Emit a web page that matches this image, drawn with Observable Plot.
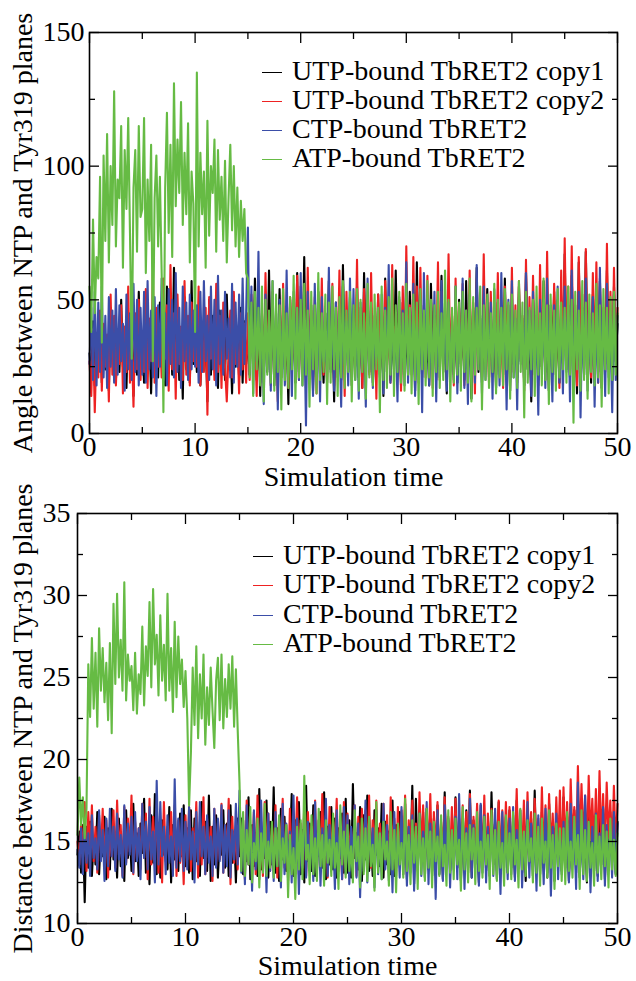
<!DOCTYPE html>
<html>
<head>
<meta charset="utf-8">
<script src="https://cdn.jsdelivr.net/npm/d3@7"></script>
<script src="https://cdn.jsdelivr.net/npm/@observablehq/plot@0.6"></script>
<style>
  html, body { margin: 0; padding: 0; background: #fff; }
  #wrap { position: relative; width: 636px; height: 981px; font-family: "Liberation Serif", serif; }
  #wrap svg { display: block; }
  .leg { position: absolute; font-family: "Liberation Serif", serif; font-size: 28px; line-height: 24px; height: 24px; white-space: nowrap; color: #000; }
  .sw { display: inline-block; width: 20px; height: 0; border-top: 1.6px solid; vertical-align: middle; margin-right: 10px; position: relative; top: -1px; }
</style>
</head>
<body>
<div id="wrap"></div>
<script>
// ---- Data ----
const seriesNames = ["UTP-bound TbRET2 copy1", "UTP-bound TbRET2 copy2", "CTP-bound TbRET2", "ATP-bound TbRET2"];
const seriesColors = ["#000000", "#ee2222", "#3b4ea8", "#66bb44"];
const timeSpan = [0, 50];
const xMajorTicks = [0, 10, 20, 30, 40, 50];
const xMinorTicks = [5, 15, 25, 35, 45];
const angleMajorTicks = [0, 50, 100, 150];
const angleMinorTicks = [25, 75, 125];
const distMajorTicks = [10, 15, 20, 25, 30, 35];
const distMinorTicks = [12.5, 17.5, 22.5, 27.5, 32.5];

// Angle between NTP and Tyr319 planes (one row = 5 time units)
const angleUTP1 = [
30,21,42,18,36,26,45,19,38,24,33,16,47,27,40,20,35,23,50,25,31,17,44,28,37,14,41,22,53,26,
34,19,46,24,39,15,43,28,36,21,49,25,33,18,55,27,40,22,62,29,45,20,38,13,51,24,42,19,57,26,
37,23,48,18,41,27,35,12,50,22,44,26,38,17,46,24,40,20,52,28,36,15,43,25,39,21,47,19,42,26,
35,22,49,27,58,20,41,14,45,29,37,23,61,25,43,18,39,28,54,21,46,24,38,11,50,26,42,19,60,23,
44,27,66,21,39,25,48,16,41,30,53,22,37,19,45,27,57,24,40,12,49,26,36,20,63,28,42,23,51,18,
38,25,55,21,44,17,60,28,40,23,47,19,36,26,52,22,41,14,58,27,43,20,38,24,61,29,45,18,49,25,
37,22,53,26,42,16,64,27,39,21,48,24,35,18,56,28,44,20,40,25,59,23,46,15,51,27,38,22,45,19,
50,26,41,20,57,24,37,13,47,28,62,23,43,19,39,27,54,21,45,25,36,17,49,28,42,22,58,24,40,16,
46,26,39,21,55,27,43,18,60,24,37,12,50,28,44,20,41,25,57,23,38,16,48,29,53,22,45,19,42,26,
67,24,44,21,59,27,39,15,64,28,47,22,68,25,41,19,52,30,45,23,57,17,43,26,61,24,40,20,55,27,
41];
const angleUTP2 = [
27,14,39,8,34,21,46,16,41,25,37,12,52,22,44,18,36,26,48,15,40,23,55,19,33,10,45,24,50,20,
38,23,54,17,43,27,60,19,47,25,39,21,58,28,48,16,63,24,45,13,52,26,40,20,57,22,44,18,49,27,
42,25,55,18,39,23,47,7,51,28,40,20,56,23,44,17,49,25,12,30,46,21,53,26,38,15,45,24,41,19,
45,20,52,27,38,14,57,23,41,19,60,26,44,18,53,24,39,12,48,21,56,25,42,17,51,28,37,22,59,20,
55,25,40,17,62,28,46,20,51,15,43,27,58,22,36,19,49,24,56,18,42,26,61,21,45,14,53,28,39,23,
41,26,65,21,47,17,54,29,39,22,60,25,44,13,52,27,37,20,57,23,46,19,63,28,40,24,50,16,55,22,
70,28,48,22,66,25,55,19,62,27,45,21,59,24,50,17,42,26,64,20,53,28,47,23,67,25,44,18,58,26,
47,25,56,18,43,28,61,22,49,15,58,26,40,21,67,24,46,19,53,27,44,22,60,25,38,17,55,28,48,21,
62,23,48,19,57,28,44,16,65,25,51,21,59,27,42,18,63,24,49,20,68,26,45,22,56,29,50,17,61,24,
73,29,55,22,70,26,48,18,66,30,52,24,69,27,45,21,60,25,64,19,58,28,47,23,71,26,53,20,62,27,
47];
const angleCTP = [
26,47,20,53,18,49,23,55,21,44,17,51,25,46,19,54,22,48,27,41,16,52,24,45,20,56,23,50,18,47,
22,53,19,57,24,46,21,51,14,48,25,58,20,45,18,54,26,50,21,60,23,47,17,55,27,49,20,52,24,46,
25,48,19,53,23,57,27,44,20,55,24,50,18,59,26,46,22,53,28,43,21,56,19,49,25,52,22,58,26,45,
77,22,55,15,48,27,68,19,44,11,52,24,40,16,57,21,45,9,50,26,42,18,61,23,39,14,53,25,47,20,
60,18,43,3,53,25,39,14,56,22,47,12,51,27,37,19,62,23,44,16,49,21,38,10,55,26,42,18,58,24,
54,20,42,13,49,26,38,10,58,24,45,17,40,28,36,21,52,15,47,23,63,19,44,25,39,12,51,22,46,18,
64,19,43,25,56,14,41,22,50,8,60,27,45,18,39,24,53,12,47,21,57,26,42,16,49,23,38,20,55,15,
42,26,58,17,46,11,52,23,40,19,63,25,44,15,55,20,37,27,49,13,54,22,41,18,60,24,45,9,50,21,
57,21,43,9,51,26,39,18,60,24,46,14,53,22,41,7,50,25,44,17,58,23,40,12,48,27,55,19,43,15,
55,23,48,12,61,20,42,27,53,6,45,22,58,16,40,25,51,10,47,19,62,24,44,14,56,21,39,8,52,20,
44];
const angleATP = [
55,38,80,45,66,58,96,34,104,72,112,64,100,78,128,70,95,88,115,62,106,84,118,75,28,92,106,68,115,81,
84,118,60,95,72,108,27,88,104,70,96,60,8,92,120,75,108,66,131,85,110,90,124,78,105,82,116,64,98,86,
38,135,70,105,82,98,62,117,74,100,90,110,68,106,80,96,72,102,64,88,108,76,100,70,92,66,87,72,84,60,
58,21,49,14,53,24,47,18,55,12,50,22,46,19,57,16,52,23,48,9,54,20,45,17,51,24,59,13,47,21,
50,18,56,22,46,10,53,24,48,15,60,20,45,23,52,11,49,19,55,24,47,14,51,21,57,17,46,23,53,12,
48,20,54,16,50,23,45,13,56,21,49,18,52,24,47,8,55,20,46,17,51,22,58,14,48,23,53,19,45,16,
56,22,47,15,52,20,49,11,54,24,46,18,57,21,50,14,48,23,53,17,45,20,61,24,50,12,47,19,55,22,
49,16,53,23,46,19,58,12,51,22,47,24,55,9,48,20,52,17,45,23,56,15,50,21,47,18,54,24,49,13,
52,21,46,17,57,23,49,6,53,19,47,24,50,14,55,22,45,18,58,20,48,11,52,23,46,16,54,21,49,24,
47,19,55,22,50,4,53,24,46,16,57,20,49,13,52,23,45,18,56,21,48,10,54,24,47,15,51,20,53,22,
45];

// Distance between NTP and Tyr319 planes (one row = 5 time units)
const distUTP1 = [
14.2,15.6,13.1,16.0,11.3,15.9,13.4,16.2,12.9,15.1,13.6,16.8,13.0,15.4,14.1,16.5,12.7,15.8,13.3,17.0,13.9,15.3,12.8,16.4,13.5,15.0,12.6,16.9,14.0,15.7,
13.2,17.3,13.8,15.5,12.9,16.1,14.3,17.6,13.1,15.2,12.4,16.6,13.7,17.9,13.0,15.6,12.8,16.3,14.2,15.1,13.3,17.1,12.5,16.0,13.9,15.4,13.2,16.7,14.1,17.2,
13.5,15.8,13.1,16.9,12.7,16.4,13.8,15.5,12.9,17.4,14.0,16.2,13.2,17.8,12.6,15.9,13.6,16.6,12.8,15.3,14.2,16.9,13.4,16.1,12.9,17.2,13.7,15.6,12.5,16.4,
14.1,16.4,13.0,15.2,13.8,17.7,12.7,16.0,13.5,15.5,12.9,18.2,13.3,15.4,14.0,17.5,12.8,16.2,13.6,18.3,13.1,15.8,12.6,17.0,13.9,16.5,13.2,15.1,14.3,17.9,
12.9,16.3,13.7,17.4,13.0,15.7,12.5,18.4,13.8,16.1,13.2,17.2,12.9,15.6,14.1,16.8,13.4,18.0,12.7,15.9,13.6,17.1,13.3,16.4,12.8,15.8,14.0,16.7,13.1,17.6,
13.1,16.3,12.8,18.5,14.0,15.5,13.3,17.1,12.6,16.6,13.9,17.8,13.2,15.3,12.9,16.9,14.2,15.8,13.5,17.3,12.8,16.2,13.6,15.6,13.0,17.5,12.9,16.0,14.1,16.8,
16.5,13.0,17.3,12.7,15.9,13.8,18.4,12.4,17.6,13.6,15.4,14.1,16.8,12.8,17.0,13.3,15.7,12.9,16.4,13.9,17.2,13.0,15.9,12.7,18.0,13.5,16.3,13.2,15.6,14.0,
17.7,13.4,16.1,12.6,15.6,14.0,16.9,13.1,18.1,12.8,16.3,13.7,15.4,12.5,17.2,13.9,16.6,13.2,15.9,12.9,18.0,13.6,16.2,12.7,17.4,13.3,15.8,14.0,16.5,13.1,
16.9,13.4,15.7,12.8,17.5,13.9,16.2,13.1,15.5,12.6,17.0,13.7,16.4,12.9,18.1,13.4,15.9,13.0,16.8,14.0,15.6,12.8,17.3,13.5,16.1,12.6,15.8,13.9,16.6,13.2,
17.7,13.4,16.1,12.6,15.6,14.0,16.9,13.1,17.2,12.8,16.3,13.7,15.4,12.5,17.2,13.9,16.6,13.2,15.9,12.9,16.4,13.6,17.0,12.7,15.7,13.3,16.8,14.1,15.5,13.0,
16.2];
const distUTP2 = [
15.0,13.6,16.1,14.0,17.4,13.2,16.8,14.5,17.2,13.8,15.9,13.1,16.6,14.3,17.0,13.5,16.3,12.8,15.7,14.1,16.9,13.4,17.5,14.2,16.0,12.9,17.1,13.7,16.4,14.4,
17.8,13.0,16.2,13.9,15.8,13.3,17.3,14.0,16.7,12.7,17.6,13.6,16.5,14.2,17.0,13.1,16.1,12.5,17.4,13.8,15.9,14.1,16.8,13.3,17.2,12.9,16.3,13.7,15.6,12.4,
16.6,13.9,17.1,13.2,15.8,14.3,17.4,12.8,16.2,13.6,17.7,13.0,16.4,14.0,15.9,12.6,17.0,13.5,16.1,13.9,17.3,13.1,16.0,14.2,17.6,12.4,16.5,13.7,15.7,13.3,
17.1,14.0,16.3,12.7,17.5,13.6,15.9,14.1,16.8,13.0,17.8,13.8,16.2,12.9,17.4,14.3,16.7,13.2,15.8,13.9,17.2,12.8,16.5,14.0,17.6,13.4,16.0,12.6,17.0,13.7,
16.4,14.1,17.7,13.0,16.1,13.6,17.3,12.9,16.8,14.2,15.9,13.5,17.5,13.1,16.3,14.0,17.9,13.3,16.6,12.8,17.1,13.9,16.2,14.4,17.6,13.2,16.0,12.7,17.4,13.8,
16.7,14.1,15.8,13.4,17.2,12.9,16.5,13.6,17.0,14.2,16.9,14.0,17.8,13.4,16.3,14.5,17.5,13.7,16.1,13.2,17.3,13.8,16.6,13.1,17.7,14.3,16.4,12.9,17.1,13.6,
16.9,14.0,17.8,13.4,16.3,14.5,17.5,13.7,16.1,13.2,18.0,14.3,17.2,13.9,16.6,14.6,17.9,13.5,16.8,14.1,17.4,13.6,16.2,14.2,17.7,13.3,16.5,14.0,17.1,13.8,
17.6,13.9,16.4,14.3,17.2,13.5,16.8,14.1,17.9,13.2,16.5,14.4,17.3,13.7,16.1,14.0,17.8,13.4,16.7,14.2,17.0,13.6,16.3,14.5,17.5,13.1,16.9,13.9,17.4,14.2,
17.1,13.9,16.6,14.4,18.2,13.6,16.9,14.1,17.5,13.3,18.0,14.5,16.8,13.8,17.6,14.2,16.4,13.5,18.3,14.0,17.2,13.7,17.9,14.6,16.7,13.9,17.7,14.3,18.1,13.6,
18.3,14.4,17.4,13.8,18.8,15.0,17.1,14.2,19.6,14.7,18.5,14.9,17.8,14.3,19.0,15.1,17.6,14.5,18.2,14.0,19.3,14.8,17.9,14.4,18.6,15.2,17.5,14.1,18.4,14.6,
17.3];
const distCTP = [
14.5,13.4,15.8,13.0,16.3,13.7,15.5,12.9,16.6,14.0,15.2,13.3,16.9,13.8,15.7,12.6,16.4,13.5,17.0,14.1,15.9,13.2,16.7,13.9,15.4,12.8,17.2,13.6,16.1,14.2,
16.5,13.1,16.8,13.8,15.8,12.7,17.3,14.0,16.2,13.3,17.1,13.9,15.6,12.5,18.7,13.6,17.4,14.1,15.9,13.0,16.6,13.7,15.3,12.9,18.8,13.4,16.4,13.8,17.0,13.2,
16.2,13.3,17.1,13.9,15.6,12.5,16.8,13.6,17.4,14.1,15.9,13.0,16.6,13.7,15.3,12.9,17.0,13.4,16.4,13.8,17.2,13.1,16.0,13.5,16.9,12.8,15.7,13.9,17.3,13.6,
18.1,13.1,16.3,12.4,17.2,13.6,15.5,12.0,16.9,13.3,15.8,12.7,17.5,13.9,16.0,11.9,16.7,13.2,15.4,12.6,16.8,13.5,15.9,12.2,17.3,13.0,16.1,13.7,15.6,12.5,
17.8,13.2,16.4,11.8,15.7,13.4,17.0,12.8,16.2,13.6,15.5,12.6,17.4,13.1,16.3,12.3,15.8,13.8,17.6,12.9,16.0,13.3,15.4,12.1,16.9,13.5,15.7,12.7,17.1,13.0,
16.6,12.4,15.9,13.6,17.2,12.8,16.1,11.6,15.6,13.2,17.5,12.5,16.3,13.7,15.8,12.2,16.9,13.0,15.5,12.7,17.3,13.3,16.0,12.6,15.7,11.9,16.8,13.4,15.4,12.8,
17.1,13.6,16.2,12.3,15.9,13.1,16.6,12.0,15.3,13.5,16.7,12.9,15.6,13.7,17.4,12.4,16.1,13.2,15.8,11.5,16.9,13.0,15.5,12.6,17.2,13.8,16.4,12.2,15.7,13.3,
16.5,12.7,17.9,13.5,16.2,12.1,15.8,13.4,17.6,12.8,16.0,13.6,15.4,12.3,17.3,13.1,16.6,12.5,15.9,13.8,16.3,12.9,17.0,13.2,15.6,11.8,16.8,13.4,15.5,12.7,
16.4,13.0,17.1,12.6,15.7,13.5,16.9,12.2,15.5,13.7,17.4,12.8,16.1,13.3,15.8,12.0,16.6,13.6,15.3,12.4,17.0,13.1,16.3,11.7,15.9,13.4,16.7,12.7,15.6,13.0,
16.2,13.2,16.5,12.5,17.3,13.6,15.7,12.1,18.6,13.0,15.4,12.7,17.8,13.4,16.2,11.9,15.9,13.3,16.7,12.6,15.5,13.8,17.1,12.3,16.0,13.5,15.6,12.8,16.8,13.1,
16.1];
const distATP = [
15.4,18.9,16.0,17.7,15.2,17.0,25.8,22.6,27.4,23.1,26.5,22.0,28.0,24.2,26.8,23.5,25.9,22.4,27.1,21.6,29.5,24.6,30.1,25.0,27.3,24.2,30.8,23.6,26.4,24.8,
25.7,23.0,26.5,22.8,25.2,24.0,28.1,23.3,26.9,25.1,29.6,24.4,30.4,25.8,27.6,23.9,28.8,24.8,27.0,23.6,30.1,24.2,26.8,22.9,28.4,23.8,27.5,24.6,26.1,23.2,
25.4,22.5,17.2,20.4,25.6,22.1,26.9,21.3,25.2,22.5,26.4,20.9,24.4,22.1,25.6,23.0,20.7,24.8,26.2,22.4,26.4,21.9,24.9,22.6,25.8,23.1,26.3,22.0,25.5,21.8,
18.6,13.2,16.8,12.9,15.7,13.6,17.1,12.5,14.9,13.8,16.4,12.2,15.5,13.1,17.3,12.9,15.0,13.4,16.2,12.8,15.8,13.5,16.6,12.6,15.2,13.7,16.0,11.6,15.4,13.0,
14.6,11.5,15.9,13.3,16.3,12.7,19.0,13.9,14.8,12.4,16.6,13.0,15.2,12.6,17.0,13.5,15.4,12.3,16.3,13.7,15.1,12.9,16.7,13.4,14.9,12.1,17.2,13.6,15.6,12.8,
16.0,13.2,14.7,12.5,16.9,13.8,15.3,12.2,16.4,13.0,15.8,12.6,16.5,13.5,14.8,12.0,17.4,13.1,15.5,12.7,16.2,13.9,15.0,12.3,16.8,13.3,15.7,11.9,16.1,13.6,
14.9,12.8,17.6,13.2,15.4,12.4,16.3,13.7,15.9,12.1,16.7,13.0,15.2,12.6,17.0,13.4,15.6,12.2,16.2,13.8,15.3,12.9,16.6,13.5,14.8,12.3,16.9,13.1,15.7,12.7,
16.4,13.6,15.1,12.0,17.1,13.3,15.5,12.5,16.0,13.9,15.8,12.4,16.8,13.2,15.0,12.8,16.5,13.6,15.4,12.1,16.9,13.0,15.7,12.6,16.2,13.4,14.9,12.3,16.6,13.1,
15.5,12.7,16.8,13.6,15.1,12.2,17.0,13.3,15.6,12.9,16.3,13.8,15.2,12.5,16.7,13.1,15.9,12.3,16.4,13.7,15.0,12.8,16.9,13.4,15.4,12.1,16.1,13.5,15.8,12.6,
15.8,12.4,16.8,13.2,15.0,12.8,16.5,13.6,15.4,12.1,16.9,13.0,15.7,12.6,16.2,13.4,14.9,12.3,16.6,13.1,15.3,12.7,16.0,13.5,15.6,12.2,16.4,13.3,15.1,12.9,
15.5];

// ---- Build ----
const FONT = "Liberation Serif";
const FS = 28;

function toRows(seriesArrays) {
  const rows = [];
  seriesArrays.forEach((vals, k) => {
    const n = vals.length;
    vals.forEach((v, i) => rows.push({t: timeSpan[0] + i * (timeSpan[1] - timeSpan[0]) / (n - 1), v, s: seriesNames[k]}));
  });
  return rows;
}

function panel({arrays, yDomain, yMajor, yMinor, yLabel, height, marginLeft, marginTop, marginBottom, yLabelDx, xLabelDy, yPad}) {
  const rows = toRows(arrays);
  const tickCommon = {fill: "none", label: null, strokeWidth: 1.3};
  const textCommon = {fontSize: FS, fontFamily: FONT, fill: "#000"};
  return Plot.plot({
    width: 636,
    height,
    marginLeft,
    marginRight: 19,
    marginTop,
    marginBottom,
    style: {fontFamily: FONT, fontSize: FS + "px", color: "#000", background: "#fff", overflow: "visible"},
    x: {domain: timeSpan, axis: null},
    y: {domain: yDomain, axis: null},
    color: {domain: seriesNames, range: seriesColors},
    marks: [
      Plot.line(rows, {x: "t", y: "v", z: "s", stroke: "s", strokeWidth: 2.1, strokeLinejoin: "round"}),
      Plot.frame({stroke: "#000", strokeWidth: 1.6}),
      // inward ticks on all four sides
      Plot.axisX(xMajorTicks, {anchor: "bottom", tickSize: -10, ...tickCommon}),
      Plot.axisX(xMinorTicks, {anchor: "bottom", tickSize: -6, ...tickCommon}),
      Plot.axisX(xMajorTicks, {anchor: "top", tickSize: -10, ...tickCommon}),
      Plot.axisX(xMinorTicks, {anchor: "top", tickSize: -6, ...tickCommon}),
      Plot.axisY(yMajor, {anchor: "left", tickSize: -10, ...tickCommon}),
      Plot.axisY(yMinor, {anchor: "left", tickSize: -6, ...tickCommon}),
      Plot.axisY(yMajor, {anchor: "right", tickSize: -10, ...tickCommon}),
      Plot.axisY(yMinor, {anchor: "right", tickSize: -6, ...tickCommon}),
      // tick labels
      Plot.axisX(xMajorTicks, {anchor: "bottom", tickSize: 0, tickPadding: 3, label: null, tickFormat: d => String(d), ...textCommon}),
      Plot.axisY(yMajor, {anchor: "left", tickSize: 0, tickPadding: yPad, label: null, tickFormat: d => String(d), ...textCommon}),
      // axis titles
      Plot.text(["Simulation time"], {frameAnchor: "bottom", lineAnchor: "middle", textAnchor: "middle", dy: xLabelDy, ...textCommon}),
      Plot.text([yLabel], {frameAnchor: "left", lineAnchor: "middle", textAnchor: "middle", rotate: -90, dx: yLabelDx, ...textCommon})
    ]
  });
}

const wrap = document.getElementById("wrap");

wrap.appendChild(panel({
  arrays: [angleUTP1, angleUTP2, angleCTP, angleATP],
  yDomain: [0, 150], yMajor: angleMajorTicks, yMinor: angleMinorTicks,
  yLabel: "Angle between NTP and Tyr319 planes",
  height: 488, marginLeft: 89, marginTop: 32, marginBottom: 55,
  yLabelDx: -66, xLabelDy: 44, yPad: 5
}));

wrap.appendChild(panel({
  arrays: [distUTP1, distUTP2, distCTP, distATP],
  yDomain: [10, 35], yMajor: distMajorTicks, yMinor: distMinorTicks,
  yLabel: "Distance between NTP and Tyr319 planes",
  height: 493, marginLeft: 77, marginTop: 25, marginBottom: 58,
  yLabelDx: -54, xLabelDy: 43, yPad: 7
}));

// legends (inside each frame, positioned over the SVGs)
function legend(left, centers) {
  seriesNames.forEach((name, k) => {
    const row = document.createElement("div");
    row.className = "leg";
    row.style.left = left + "px";
    row.style.top = (centers[k] - 12) + "px";
    const sw = document.createElement("span");
    sw.className = "sw";
    sw.style.borderTopColor = seriesColors[k];
    row.appendChild(sw);
    row.appendChild(document.createTextNode(name));
    wrap.appendChild(row);
  });
}
legend(262, [71, 100, 129, 158]);
legend(253, [555, 584, 614, 643]);
</script>
</body>
</html>
